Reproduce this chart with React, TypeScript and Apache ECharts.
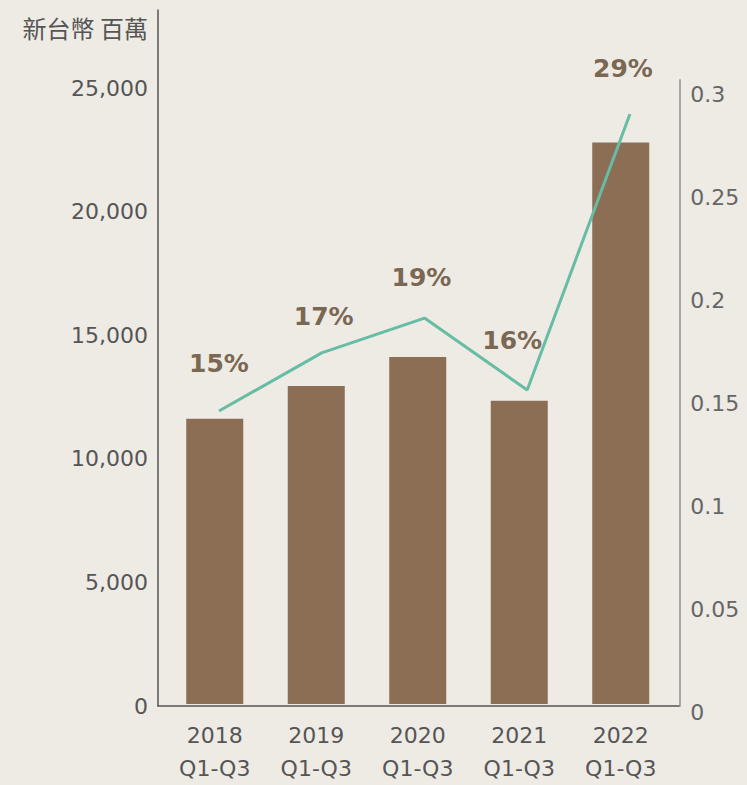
import React, { useEffect, useRef } from "react";
import * as echarts from "echarts";

const years = ["2018", "2019", "2020", "2021", "2022"];
const periodLabel = "Q1-Q3";
const revenue = [11570, 12905, 14078, 12298, 22775];
const ratio = [0.1432, 0.1714, 0.1883, 0.1534, 0.2874];
const ratioLabels = ["15%", "17%", "19%", "16%", "29%"];
const leftTicks = [0, 5000, 10000, 15000, 20000, 25000];
const rightTicks = [0, 0.05, 0.1, 0.15, 0.2, 0.25, 0.3];
const unitName = "新台幣 百萬";

const labelOffsets: [number, number][] = [
  [0, -48],
  [2, -36],
  [-3, -41],
  [-15, -49],
  [-7, -45],
];

const FONT = "DejaVu Sans";

export default function App() {
  const ref = useRef<HTMLDivElement>(null);
  useEffect(() => {
    if (!ref.current) return;
    const chart = echarts.init(ref.current, null, { renderer: "svg" });
    const leftMax = (leftTicks[leftTicks.length - 1] * 696) / 618;
    const rightMax = (rightTicks[rightTicks.length - 1] * 626) / 618;
    chart.setOption({
      animation: false,
      backgroundColor: "#eeebe5",
      grid: [
        { left: 164, width: 507.5, top: 10, height: 696 },
        { left: 167.6, width: 513.75, top: 80, height: 626 },
        { left: 158, width: 521, top: 10, height: 696 },
      ],
      xAxis: [
        {
          type: "category",
          gridIndex: 0,
          data: years.map((y) => y + "\n" + periodLabel),
          axisLine: { show: false },
          axisTick: { show: false },
          axisLabel: {
            margin: 15,
            color: "#555",
            fontFamily: FONT,
            fontSize: 22,
            lineHeight: 33,
          },
        },
        {
          type: "category",
          gridIndex: 1,
          data: years,
          show: false,
        },
        {
          type: "value",
          gridIndex: 2,
          min: 0,
          max: 1,
          axisLine: { show: true, lineStyle: { color: "#555", width: 1.5 } },
          axisTick: { show: false },
          axisLabel: { show: false },
          splitLine: { show: false },
        },
      ],
      yAxis: [
        {
          type: "value",
          gridIndex: 0,
          min: 0,
          max: leftMax,
          show: false,
        },
        {
          type: "value",
          gridIndex: 1,
          position: "right",
          offset: -2,
          min: 0,
          max: rightMax,
          interval: 0.05,
          axisLine: { show: true, lineStyle: { color: "#a9a7a4", width: 2 } },
          axisTick: { show: false },
          splitLine: { show: false },
          axisLabel: {
            showMaxLabel: false,
            margin: 11,
            color: "#666",
            fontFamily: FONT,
            fontSize: 22,
            verticalAlign: "top",
            lineHeight: 12,
            formatter: (v: number) => {
              const t = rightTicks.find((r) => Math.abs(r - v) < 1e-9);
              return t === undefined ? "" : String(t);
            },
          },
        },
        {
          type: "value",
          gridIndex: 2,
          min: 0,
          max: leftMax,
          interval: 5000,
          name: unitName,
          nameLocation: "end",
          nameGap: -17,
          nameTextStyle: {
            align: "right",
            verticalAlign: "middle",
            padding: [0, 10, 0, 0],
            color: "#555",
            fontFamily: "Noto Sans CJK TC",
            fontSize: 24,
          },
          axisLine: { show: true, lineStyle: { color: "#555", width: 1.5 } },
          axisTick: { show: false },
          splitLine: { show: false },
          axisLabel: {
            showMaxLabel: false,
            margin: 10,
            color: "#555",
            fontFamily: FONT,
            fontSize: 22,
            formatter: (v: number) =>
              leftTicks.includes(v) ? v.toLocaleString("en-US") : "",
          },
        },
      ],
      series: [
        {
          type: "bar",
          xAxisIndex: 0,
          yAxisIndex: 0,
          data: revenue,
          barWidth: 57,
          itemStyle: { color: "#8b6e53" },
        },
        {
          type: "line",
          xAxisIndex: 1,
          yAxisIndex: 1,
          data: ratio.map((v, i) => ({
            value: v,
            label: {
              offset: labelOffsets[i],
              formatter: () => ratioLabels[i],
            },
          })),
          symbol: "circle",
          symbolSize: 1,
          showSymbol: true,
          itemStyle: { color: "rgba(0,0,0,0)" },
          lineStyle: { color: "#66bda4", width: 3 },
          label: {
            show: true,
            position: "inside",
            color: "#7a6853",
            fontFamily: FONT,
            fontWeight: "bold",
            fontSize: 25,
          },
          z: 5,
        },
      ],
    });
    return () => chart.dispose();
  }, []);
  return (
    <div
      ref={ref}
      style={{ position: "absolute", left: 0, top: 0, width: 747, height: 785 }}
    />
  );
}
